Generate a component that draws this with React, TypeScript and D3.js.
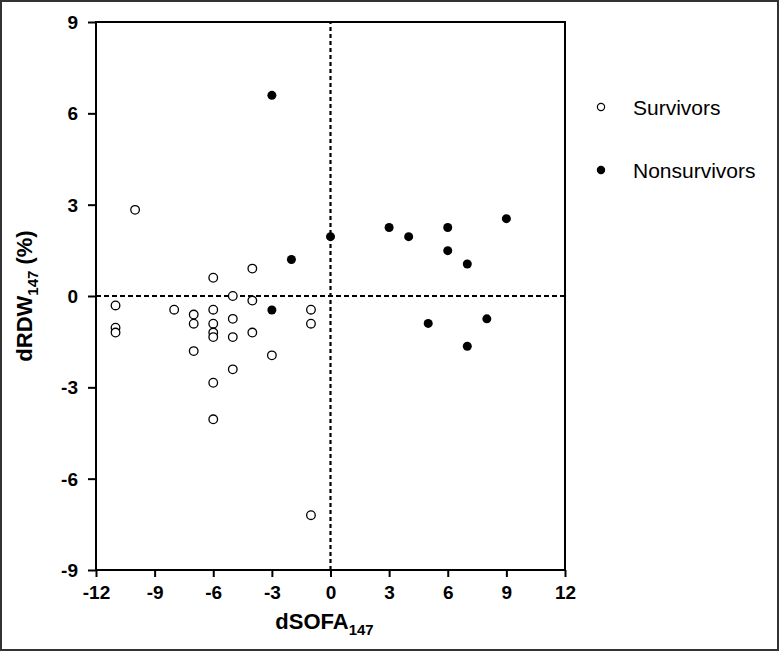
import { useEffect, useRef } from "react";
import * as d3 from "d3";

// dSOFA147 (x) and dRDW147 (y) per patient
const survivorsX = [-10, -4, -6, -5, -4, -11, -8, -7, -6, -1, -5, -7, -6, -1, -11, -11, -6, -6, -5, -4, -7, -3, -5, -6, -6, -1];
const survivorsY = [2.83, 0.9, 0.6, 0, -0.15, -0.31, -0.45, -0.61, -0.45, -0.45, -0.75, -0.91, -0.91, -0.91, -1.04, -1.2, -1.2, -1.35, -1.35, -1.2, -1.81, -1.95, -2.41, -2.85, -4.05, -7.2];

const nonsurvivorsX = [-3, -2, 0, -3, 3, 4, 6, 9, 6, 7, 5, 8, 7];
const nonsurvivorsY = [6.59, 1.2, 1.95, -0.46, 2.25, 1.95, 2.25, 2.54, 1.49, 1.05, -0.9, -0.75, -1.65];

const xTicks = [-12, -9, -6, -3, 0, 3, 6, 9, 12];
const yTicks = [-9, -6, -3, 0, 3, 6, 9];
const legendLabels = ["Survivors", "Nonsurvivors"];

const W = 779;
const H = 651;
const FONT = "'Liberation Sans', Arial, sans-serif";

export default function App() {
    const svgRef = useRef<SVGSVGElement | null>(null);

    useEffect(() => {
        if (!svgRef.current) return;
        const svg = d3.select(svgRef.current);
        svg.selectAll("*").remove();

        const margin = { left: 96, right: 214, top: 22, bottom: 81 };
        const x = d3.scaleLinear().domain([-12, 12]).range([margin.left, W - margin.right]);
        const y = d3.scaleLinear().domain([-9, 9]).range([H - margin.bottom, margin.top]);

        // outer image border
        svg.append("rect")
            .attr("x", 1).attr("y", 1)
            .attr("width", W - 2).attr("height", H - 2)
            .attr("fill", "white")
            .attr("stroke", "#333")
            .attr("stroke-width", 2);

        // reference lines
        svg.append("line")
            .attr("x1", x(-12)).attr("x2", x(12))
            .attr("y1", y(0)).attr("y2", y(0))
            .attr("stroke", "black").attr("stroke-width", 2.2)
            .attr("stroke-dasharray", "5,3");
        svg.append("line")
            .attr("x1", x(0)).attr("x2", x(0))
            .attr("y1", y(-9)).attr("y2", y(9))
            .attr("stroke", "black").attr("stroke-width", 2.2)
            .attr("stroke-dasharray", "4,3");

        // axes (plain hyphen minus like the original)
        const fmt = (d: d3.NumberValue) => String(d);
        const xAxis = svg.append("g")
            .attr("transform", `translate(0,${y(-9)})`)
            .call(d3.axisBottom(x).tickValues(xTicks).tickFormat(fmt).tickSize(7).tickPadding(9).tickSizeOuter(0));
        const yAxis = svg.append("g")
            .attr("transform", `translate(${x(-12)},0)`)
            .call(d3.axisLeft(y).tickValues(yTicks).tickFormat(fmt).tickSize(8).tickPadding(10).tickSizeOuter(0));
        [xAxis, yAxis].forEach((g) => {
            g.select(".domain").remove();
            g.selectAll(".tick line").attr("stroke", "black").attr("stroke-width", 2);
            g.selectAll(".tick text")
                .attr("fill", "black")
                .style("font-family", FONT)
                .style("font-weight", "bold")
                .style("font-size", "19px");
        });
        yAxis.selectAll(".tick text").attr("dy", "0.35em");

        // plot frame
        svg.append("rect")
            .attr("x", x(-12)).attr("y", y(9))
            .attr("width", x(12) - x(-12)).attr("height", y(-9) - y(9))
            .attr("fill", "none")
            .attr("stroke", "black")
            .attr("stroke-width", 2);

        // points
        svg.append("g").selectAll("circle")
            .data(survivorsX.map((d, i) => [d, survivorsY[i]]))
            .join("circle")
            .attr("cx", (d) => x(d[0]))
            .attr("cy", (d) => y(d[1]))
            .attr("r", 4.3)
            .attr("fill", "white")
            .attr("stroke", "black")
            .attr("stroke-width", 1.3);
        svg.append("g").selectAll("circle")
            .data(nonsurvivorsX.map((d, i) => [d, nonsurvivorsY[i]]))
            .join("circle")
            .attr("cx", (d) => x(d[0]))
            .attr("cy", (d) => y(d[1]))
            .attr("r", 4.5)
            .attr("fill", "black");

        // axis titles
        const xt = svg.append("text")
            .attr("x", (x(-12) + x(12)) / 2 - 6)
            .attr("y", 629)
            .attr("text-anchor", "middle")
            .style("font-family", FONT)
            .style("font-weight", "bold")
            .style("font-size", "22px");
        xt.append("tspan").text("dSOFA");
        xt.append("tspan").attr("dy", 6).style("font-size", "15px").text("147");

        const yt = svg.append("text")
            .attr("transform", `translate(32,${y(0)}) rotate(-90)`)
            .attr("text-anchor", "middle")
            .style("font-family", FONT)
            .style("font-weight", "bold")
            .style("font-size", "22px");
        yt.append("tspan").text("dRDW");
        yt.append("tspan").attr("dy", 6).style("font-size", "15px").text("147");
        yt.append("tspan").attr("dy", -6).text(" (%)");

        // legend
        const legend = svg.append("g");
        legendLabels.forEach((label, i) => {
            const cy = 107 + i * 63;
            legend.append("circle")
                .attr("cx", 601).attr("cy", cy).attr("r", 3.6)
                .attr("fill", i === 0 ? "white" : "black")
                .attr("stroke", "black").attr("stroke-width", 1.2);
            legend.append("text")
                .attr("x", 633).attr("y", cy + 7.5)
                .style("font-family", FONT)
                .style("font-size", "21px")
                .attr("fill", "black")
                .text(label);
        });
    }, []);

    return (
        <svg
            ref={svgRef}
            width={W}
            height={H}
            style={{ position: "absolute", left: 0, top: 0, background: "white" }}
        ></svg>
    );
}
